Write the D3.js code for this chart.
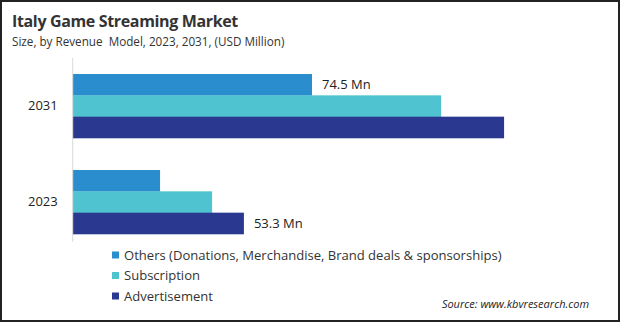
<!DOCTYPE html>
<html><head><meta charset="utf-8">
<script src="https://cdnjs.cloudflare.com/ajax/libs/d3/7.8.5/d3.min.js"></script>
<style>
html,body{margin:0;padding:0;background:#fff;}
svg{display:block;}
text{font-family:"Open Sans","Noto Sans",sans-serif;white-space:pre;}
</style></head>
<body>
<script>
const categories = ["2031", "2023"];
const seriesNames = ["Others (Donations, Merchandise, Brand deals & sponsorships)", "Subscription", "Advertisement"];
const others = [74.5, 27.2];
const subscription = [114.7, 43.4];
const advertisement = [134.3, 53.3];
const valueLabels = [{cat: "2031", series: 0, text: "74.5 Mn"}, {cat: "2023", series: 2, text: "53.3 Mn"}];
const colors = ["#2a8dcd", "#4fc3cf", "#2b388f"];

const W = 620, H = 322;
const svg = d3.select("body").append("svg").attr("width", W).attr("height", H);
svg.append("rect").attr("x", 1).attr("y", 1).attr("width", W - 2).attr("height", H - 2)
  .attr("fill", "#fff").attr("stroke", "#222").attr("stroke-width", 2);

svg.append("text").attr("x", 12).attr("y", 27).attr("font-size", 16).attr("font-weight", 700)
  .attr("letter-spacing", -0.35).attr("fill", "#333").text("Italy Game Streaming Market");
svg.append("text").attr("x", 12).attr("y", 46).attr("font-size", 11.7)
  .attr("fill", "#333").text("Size, by Revenue  Model, 2023, 2031, (USD Million)");

const seriesData = [others, subscription, advertisement];
const x = d3.scaleLinear().domain([0, 74.5]).range([72.7, 312]);
const y = d3.scaleBand().domain(categories).range([58, 250]).paddingInner(1/3).paddingOuter(1/6);
const ys = d3.scaleBand().domain(d3.range(seriesNames.length)).range([0, y.bandwidth()]);

const g = svg.append("g");
categories.forEach((c, ci) => {
  seriesData.forEach((s, si) => {
    g.append("rect").attr("x", x(0)).attr("y", y(c) + ys(si))
      .attr("width", x(s[ci]) - x(0)).attr("height", ys.bandwidth() + 0.3)
      .attr("fill", colors[si]);
  });
});

const yAxis = svg.append("g").attr("transform", `translate(${x(0)},0)`)
  .call(d3.axisLeft(y).tickSize(0).tickPadding(15));
yAxis.select(".domain").attr("stroke", "#d9d9d9").attr("d", `M0,58V242`);
yAxis.selectAll("text").attr("font-size", 13).attr("fill", "#222")
  .style("font-family", '"Open Sans","Noto Sans",sans-serif');

valueLabels.forEach(l => {
  const ci = categories.indexOf(l.cat);
  const v = seriesData[l.series][ci];
  svg.append("text").attr("x", x(v) + 10).attr("y", y(l.cat) + ys(l.series) + ys.bandwidth() / 2)
    .attr("dy", "0.36em").attr("font-size", 13).attr("fill", "#222").text(l.text);
});

const leg = svg.append("g");
seriesNames.forEach((n, i) => {
  const cy = 255 + i * 20.5;
  leg.append("rect").attr("x", 112).attr("y", cy - 3.5).attr("width", 7).attr("height", 7).attr("fill", colors[i]);
  leg.append("text").attr("x", 124).attr("y", cy).attr("dy", "0.36em").attr("font-size", 13.05)
    .attr("fill", "#333").text(n);
});

svg.append("text").attr("x", 589).attr("y", 308).attr("text-anchor", "end").attr("font-size", 11)
  .attr("font-style", "italic").attr("fill", "#222").text("Source: www.kbvresearch.com");
</script>
</body></html>
